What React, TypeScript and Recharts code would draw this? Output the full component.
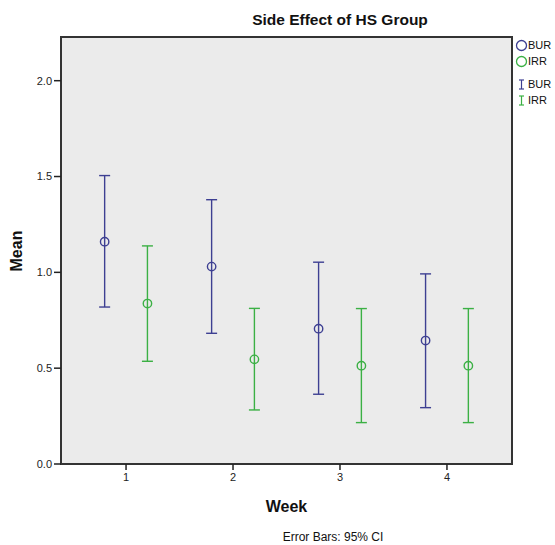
import React from 'react';
import { ScatterChart, Scatter, XAxis, YAxis, ErrorBar, ReferenceArea } from 'recharts';

const weeks = [1, 2, 3, 4];
const burMean = [1.16, 1.03, 0.706, 0.644];
const burLower = [0.819, 0.682, 0.364, 0.294];
const burUpper = [1.505, 1.379, 1.053, 0.992];
const irrMean = [0.837, 0.546, 0.513, 0.513];
const irrLower = [0.536, 0.282, 0.216, 0.216];
const irrUpper = [1.138, 0.812, 0.811, 0.811];
const yTicks = [0, 0.5, 1.0, 1.5, 2.0];
const xTicks = [1, 2, 3, 4];
const groupOffset = 0.2;

const BLUE = '#3d3f92';
const GREEN = '#3bb044';
const FONT = 'Arial, "Liberation Sans", sans-serif';

const burData = weeks.map((w, i) => ({
  x: w - groupOffset,
  y: burMean[i],
  err: [burMean[i] - burLower[i], burUpper[i] - burMean[i]],
}));
const irrData = weeks.map((w, i) => ({
  x: w + groupOffset,
  y: irrMean[i],
  err: [irrMean[i] - irrLower[i], irrUpper[i] - irrMean[i]],
}));

const X_DOMAIN: [number, number] = [0.392, 4.608];
const Y_DOMAIN: [number, number] = [0, 2.228];

const makeShape = (color: string) => (props: any) => {
  const { cx, cy } = props;
  return <circle cx={cx} cy={cy} r={4.2} fill="none" stroke={color} strokeWidth={1.4} />;
};

export default function App() {
  return (
    <div style={{ position: 'absolute', left: 0, top: 0, width: 555, height: 545, background: '#fff', fontFamily: FONT }}>
      <ScatterChart width={555} height={545} margin={{ top: 37, right: 43, left: 21, bottom: 51 }}>
        <ReferenceArea
          x1={X_DOMAIN[0]}
          x2={X_DOMAIN[1]}
          y1={Y_DOMAIN[0]}
          y2={Y_DOMAIN[1]}
          fill="#ebebeb"
          fillOpacity={1}
          stroke="#333"
          strokeWidth={2}
          ifOverflow="visible"
        />
        <XAxis
          type="number"
          dataKey="x"
          domain={X_DOMAIN}
          ticks={xTicks}
          allowDataOverflow
          height={30}
          axisLine={false}
          tickLine={{ stroke: '#222', strokeWidth: 1.5 }}
          tickSize={6}
          tickMargin={3}
          tick={{ fill: '#222', fontSize: 11, fontFamily: FONT }}
        />
        <YAxis
          type="number"
          dataKey="y"
          domain={Y_DOMAIN}
          ticks={yTicks}
          allowDataOverflow
          width={40}
          axisLine={false}
          tickLine={{ stroke: '#222', strokeWidth: 1.5 }}
          tickSize={7}
          tickMargin={2}
          tickFormatter={(v: number) => v.toFixed(1)}
          tick={{ fill: '#222', fontSize: 11, fontFamily: FONT }}
        />
        <Scatter name="BUR" data={burData} isAnimationActive={false} shape={makeShape(BLUE)}>
          <ErrorBar dataKey="err" direction="y" width={5.5} stroke={BLUE} strokeWidth={1.4} isAnimationActive={false} />
        </Scatter>
        <Scatter name="IRR" data={irrData} isAnimationActive={false} shape={makeShape(GREEN)}>
          <ErrorBar dataKey="err" direction="y" width={5.5} stroke={GREEN} strokeWidth={1.4} isAnimationActive={false} />
        </Scatter>
      </ScatterChart>

      <div style={{ position: 'absolute', left: 0, width: 680, top: 10, textAlign: 'center', fontSize: 15.5, fontWeight: 'bold', color: '#111', lineHeight: '20px' }}>
        Side Effect of HS Group
      </div>
      <div style={{ position: 'absolute', left: 61, width: 451, top: 497, textAlign: 'center', fontSize: 16, fontWeight: 'bold', color: '#111', lineHeight: '20px' }}>
        Week
      </div>
      <div style={{ position: 'absolute', left: 233, width: 200, top: 529, textAlign: 'center', fontSize: 12, color: '#111', lineHeight: '16px' }}>
        Error Bars: 95% CI
      </div>
      <div style={{ position: 'absolute', left: 17, top: 251, width: 0, height: 0 }}>
        <div style={{ position: 'absolute', left: -40, top: -10, width: 80, textAlign: 'center', transform: 'rotate(-90deg)', fontSize: 16, fontWeight: 'bold', color: '#111', lineHeight: '20px' }}>
          Mean
        </div>
      </div>

      <div style={{ position: 'absolute', left: 515, top: 37, fontSize: 11, color: '#111', lineHeight: '14px' }}>
        <div style={{ display: 'flex', alignItems: 'center', height: 16 }}>
          <svg width={13} height={13}><circle cx={6.5} cy={6.5} r={5} fill="none" stroke={BLUE} strokeWidth={1.3} /></svg>
          <span>BUR</span>
        </div>
        <div style={{ display: 'flex', alignItems: 'center', height: 16 }}>
          <svg width={13} height={13}><circle cx={6.5} cy={6.5} r={5} fill="none" stroke={GREEN} strokeWidth={1.3} /></svg>
          <span>IRR</span>
        </div>
        <div style={{ height: 7 }} />
        <div style={{ display: 'flex', alignItems: 'center', height: 16 }}>
          <svg width={13} height={13}>
            <line x1={4} x2={9} y1={2} y2={2} stroke={BLUE} strokeWidth={1.2} />
            <line x1={6.5} x2={6.5} y1={2} y2={11} stroke={BLUE} strokeWidth={1.2} />
            <line x1={4} x2={9} y1={11} y2={11} stroke={BLUE} strokeWidth={1.2} />
          </svg>
          <span>BUR</span>
        </div>
        <div style={{ display: 'flex', alignItems: 'center', height: 16 }}>
          <svg width={13} height={13}>
            <line x1={4} x2={9} y1={2} y2={2} stroke={GREEN} strokeWidth={1.2} />
            <line x1={6.5} x2={6.5} y1={2} y2={11} stroke={GREEN} strokeWidth={1.2} />
            <line x1={4} x2={9} y1={11} y2={11} stroke={GREEN} strokeWidth={1.2} />
          </svg>
          <span>IRR</span>
        </div>
      </div>
    </div>
  );
}
